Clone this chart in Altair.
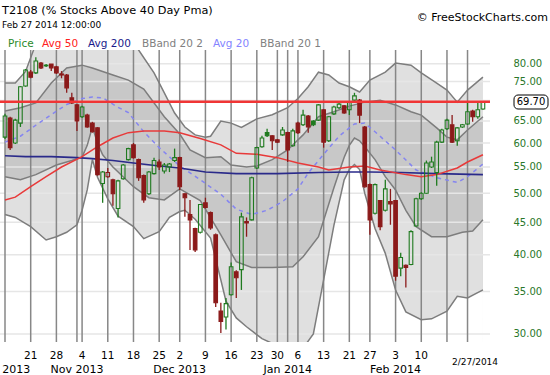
import altair as alt
import pandas as pd
import numpy as np

# ---------------- data ----------------
OPEN = [61.3,65.7,60.0,64.5,73.8,77.6,77.4,80.2,79.4,79.9,
        79.1,77.1,76.8,70.7,68.9,66.0,66.4,64.5,63.4,51.8,
        53.1,52.5,47.3,52.7,56.5,59.6,56.5,53.3,49.9,53.7,
        56.0,54.2,55.0,56.3,56.9,49.9,46.3,44.0,43.4,48.3,
        46.6,43.0,32.6,31.9,34.6,37.6,37.9,45.1,45.4,54.8,
        59.2,62.3,61.6,60.7,61.8,62.3,59.4,64.5,64.1,66.2,
        65.0,65.2,67.7,60.5,66.7,68.2,68.7,67.7,70.1,70.1,
        63.6,51.6,46.5,48.7,47.0,48.5,48.7,38.1,38.5,38.6,
        44.4,49.0,50.0,55.0,53.9,60.2,63.2,64.1,60.5,63.6,
        64.3,67.4,66.0,67.9]
HIGH = [66.7,66.0,65.5,73.8,78.5,78.2,81.9,80.5,79.9,79.9,
        79.4,77.9,77.1,72.0,69.1,68.7,66.7,64.8,63.6,54.2,
        54.8,52.7,52.5,55.6,59.0,60.0,56.7,53.5,54.2,56.9,
        56.5,55.8,55.8,58.8,57.1,50.0,48.8,44.1,48.1,49.2,
        46.8,43.2,33.6,34.2,38.9,37.8,46.6,45.8,53.1,59.2,
        61.6,63.2,61.8,60.9,63.6,62.5,63.2,64.8,67.7,66.4,
        65.2,69.1,67.9,66.2,68.7,69.4,68.9,69.9,72.0,70.4,
        63.8,51.8,51.8,48.8,52.5,50.8,48.8,40.3,38.6,43.7,
        49.2,50.2,56.3,57.1,60.5,63.2,65.5,66.4,63.6,64.3,
        69.4,67.7,69.6,69.9]
LOW = [60.9,58.5,59.8,63.6,73.6,75.9,77.1,78.5,79.1,77.9,
       77.1,75.9,72.0,69.1,62.7,65.7,63.4,62.3,53.3,48.3,
       52.9,47.8,45.8,52.5,56.3,56.7,52.3,48.3,49.7,53.5,
       54.4,53.7,54.0,56.0,50.6,45.9,40.7,40.4,43.2,47.3,
       43.8,33.1,30.1,30.5,34.5,34.2,35.2,42.7,45.3,54.6,
       59.0,61.3,58.5,60.0,61.6,56.0,59.2,62.0,63.8,62.3,
       63.8,65.0,59.0,60.2,66.4,67.9,66.7,66.4,69.9,64.5,
       51.0,43.0,46.3,43.7,46.8,44.6,36.4,37.0,35.5,38.5,
       44.3,48.8,49.9,54.8,51.4,60.0,62.9,60.0,59.4,63.4,
       64.1,64.8,65.5,67.7]
CLOSE = [66.2,59.0,65.2,73.6,78.2,76.2,80.8,78.8,79.6,78.8,
         77.4,76.8,73.3,69.4,65.0,68.4,63.6,62.5,53.5,54.0,
         53.9,49.9,52.3,55.4,58.8,56.9,52.9,48.8,54.0,56.3,
         55.0,55.4,55.6,56.9,51.2,49.2,45.4,40.7,48.0,47.5,
         44.1,33.6,31.4,33.5,38.3,36.8,45.9,44.9,52.9,59.0,
         61.1,61.6,60.5,60.2,62.9,58.5,62.7,62.3,66.4,63.6,
         64.1,68.9,60.2,66.0,68.4,69.1,66.9,69.6,71.2,66.4,
         51.2,45.4,51.6,44.3,50.8,48.1,37.0,39.6,38.2,43.5,
         49.0,50.0,55.8,56.0,60.2,62.9,65.2,60.2,63.4,64.1,
         67.2,66.0,67.7,69.7]

# Bollinger 20,2 (outer) upper / lower
OU_IDX = [0,2,4,6,9,14,20,24,26,29,31,33,35,37,39,40,42,44,46,49,52,55,57,59,61,63,65,67,69,71,74,76,79,81,84,86,88,90,93]
OU_VAL = [74.6,74.6,77.8,86.0,92.0,95.0,93.0,88.0,84.1,77.4,72.0,66.9,63.6,61.8,61.3,61.5,65.0,64.5,63.5,65.5,66.5,68.2,70.5,73.6,77.6,76.8,74.6,73.6,72.2,75.4,77.6,80.2,79.6,77.4,74.6,72.7,69.6,72.7,76.2]
OL_IDX = [0,2,5,8,10,12,14,15,16,17,18,20,22,25,27,30,32,34,35,37,40,42,43,45,47,50,54,58,60,62,64,66,67,68,69,70,72,74,76,78,81,83,86,88,90,93]
OL_VAL = [46.3,45.8,44.3,42.2,42.7,43.4,44.6,47.0,50.6,56.5,53.0,49.0,46.0,44.3,42.4,43.5,45.8,46.8,47.0,45.5,42.5,36.5,33.8,31.8,30.8,29.5,28.5,28.5,30.0,36.5,44.5,52.5,54.5,55.5,54.5,50.0,44.0,40.2,35.2,32.5,31.6,31.7,32.6,34.4,34.2,35.2]
# Bollinger 20,1 (inner) upper / lower
IU_IDX = [0,3,6,9,12,15,17,21,24,27,31,34,36,39,42,44,47,49,52,55,58,61,64,67,70,73,76,79,81,84,86,88,90,93]
IU_VAL = [67.4,68.2,69.4,74.6,78.8,79.6,78.8,76.8,75.4,73.0,66.0,62.0,58.5,56.9,57.1,55.4,55.0,55.2,56.5,58.5,61.8,66.0,67.2,68.6,69.6,70.1,68.9,67.2,66.4,63.4,61.3,60.7,62.9,66.0]
IL_IDX = [0,3,6,10,13,15,16,17,18,19,21,25,28,31,34,38,42,45,48,52,56,58,61,64,66,67,68,69,70,72,74,76,78,80,83,86,89,91,93]
IL_VAL = [53.1,52.5,53.5,55.4,56.3,57.0,59.5,63.6,60.0,57.5,55.0,51.2,49.2,48.8,50.8,48.7,43.0,39.0,38.2,38.2,38.3,39.7,42.7,51.0,57.0,59.5,61.1,60.5,59.2,56.5,53.1,50.6,47.0,44.3,42.7,42.7,43.4,43.6,45.4]
# moving averages
A20_IDX = [0,3,6,9,12,15,17,19,22,24,27,30,34,38,42,45,48,51,54,57,59,62,65,68,70,72,76,80,84,88,90,93]
A20_VAL = [60.2,61.5,64.0,66.5,69.0,70.5,70.9,70.7,68.3,67.0,62.5,59.0,55.2,52.5,49.8,47.2,46.3,47.0,48.5,50.8,53.8,57.6,61.5,64.3,64.5,62.5,58.5,54.4,52.9,52.0,53.1,55.6]
A50_IDX = [0,2,5,8,11,15,18,21,24,27,31,34,38,42,45,49,53,57,61,63,67,70,73,78,81,84,88,90,93]
A50_VAL = [48.8,49.3,51.2,53.1,55.0,57.1,59.2,61.1,62.3,62.7,62.7,62.3,61.0,59.6,57.8,57.6,56.9,55.8,55.0,54.4,55.0,55.2,54.4,53.5,53.1,53.5,54.8,56.0,57.5]
A200_IDX = [0,4,9,14,17,21,25,30,34,39,45,53,61,67,71,77,84,93]
A200_VAL = [57.3,57.1,57.1,56.9,56.7,56.3,55.8,55.2,54.8,54.0,53.7,53.7,53.9,54.0,54.0,53.9,53.7,53.5]

# axis / calendar (trading-day index 0 = Oct 14 2013)
GRID_IDX = [0,5,10,14,15,20,25,30,34,39,44,49,53,55,57,62,67,71,76,81,86,90]
DAY_IDX = [5,10,15,20,25,30,34,39,44,49,53,57,62,67,71,76,81]
DAY_LABELS = ["21","28","4","11","18","25","2","9","16","23","30","6","13","21","27","3","10"]
MONTH_IDX = [0,14,34,55,76]
MONTH_LABELS = ["Oct 2013","Nov 2013","Dec 2013","Jan 2014","Feb 2014"]
LAST_LABEL = "2/27/2014"
Y_TICKS = [30,35,40,45,50,55,60,65,70,75,80]

# ---------------- layout / style ----------------
W, H = 490, 292
Y_MIN, Y_MAX = 29.14, 84.1
FONT = "DejaVu Sans"
GREEN = "#1f7a1f"
RED = "#8b1a1a"
OUTER = "#e0e0e0"
INNER = "#c8c8c8"
BANDLINE = "#7d7d7d"

xs = alt.Scale(domain=[0, 93.4], nice=False, zero=False)
ys = alt.Scale(type="log", domain=[Y_MIN, Y_MAX], nice=False)
yaxis = alt.Axis(orient="right", values=[v for v in Y_TICKS if v != 70], format=".2f",
                 labelFont=FONT, labelFontSize=10, labelColor="#2a772a",
                 ticks=False, domain=False, grid=False, labelPadding=23,
                 labelOverlap=False, title=None)


def X(field="idx"):
    return alt.X(f"{field}:Q", scale=xs, axis=None)


def Y(field):
    return alt.Y(f"{field}:Q", scale=ys, axis=yaxis)


def series(idx, val):
    return pd.DataFrame({"idx": idx, "v": val})


def area(idx, val, color):
    d = series(idx, val)
    d["floor"] = Y_MIN * 0.9
    return alt.Chart(d).mark_area(fill=color, opacity=1, clip=True).encode(
        x=X(), y=Y("v"), y2="floor:Q")


def line(idx, val, color, width=1.5, dash=None):
    kw = dict(color=color, strokeWidth=width, clip=True)
    if dash:
        kw["strokeDash"] = dash
    return alt.Chart(series(idx, val)).mark_line(**kw).encode(x=X(), y=Y("v"))


layers = []
# band fills (painted from the top band down)
layers.append(area(OU_IDX, OU_VAL, OUTER))
layers.append(area(IU_IDX, IU_VAL, INNER))
layers.append(area(IL_IDX, IL_VAL, OUTER))
layers.append(area(OL_IDX, OL_VAL, "#ffffff"))

# grid
layers.append(alt.Chart(pd.DataFrame({"v": Y_TICKS})).mark_rule(color="#e6e6e6", strokeWidth=1.5).encode(
    y=Y("v"), x=alt.value(0), x2=alt.value(W)))
layers.append(alt.Chart(pd.DataFrame({"idx": GRID_IDX})).mark_rule(color="#878787", strokeWidth=1.5).encode(
    x=X(), y=alt.value(0), y2=alt.value(H)))

# band lines and averages
for idx, val in [(OU_IDX, OU_VAL), (IU_IDX, IU_VAL), (IL_IDX, IL_VAL), (OL_IDX, OL_VAL)]:
    layers.append(line(idx, val, BANDLINE))
layers.append(line(A20_IDX, A20_VAL, "#8585f0", 1.5, [4, 4]))
layers.append(line(A200_IDX, A200_VAL, "#2a2a8a", 1.6))
layers.append(line(A50_IDX, A50_VAL, "#e83a3a", 1.5))

# candles
n = len(CLOSE)
df = pd.DataFrame({"idx": range(n), "open": OPEN, "high": HIGH, "low": LOW, "close": CLOSE})
prev = df["close"].shift(1).fillna(df["close"])
df["col"] = np.where(df["close"] >= prev, GREEN, RED)
df["fillc"] = np.where(df["close"] > df["open"], "transparent", df["col"])
df["top"] = df[["open", "close"]].max(axis=1)
df["bot"] = df[["open", "close"]].min(axis=1)

base = alt.Chart(df)
layers.append(base.mark_rule(strokeWidth=1.3, clip=True).encode(
    x=X(), y=Y("high"), y2="top:Q", color=alt.Color("col:N", scale=None)))
layers.append(base.mark_rule(strokeWidth=1.3, clip=True).encode(
    x=X(), y=Y("bot"), y2="low:Q", color=alt.Color("col:N", scale=None)))
layers.append(base.mark_bar(size=3.6, strokeWidth=1.1, clip=True).encode(
    x=X(), y=Y("top"), y2="bot:Q",
    fill=alt.Fill("fillc:N", scale=None), stroke=alt.Stroke("col:N", scale=None)))

# last price line
last = pd.DataFrame({"v": [CLOSE[-1]]})
layers.append(alt.Chart(last).mark_rule(color="#f03535", strokeWidth=2.5).encode(
    y=Y("v"), x=alt.value(0), x2=alt.value(W)))

# last price box on the axis
layers.append(alt.Chart(last).mark_rect(fill="white", stroke="black", strokeWidth=1, cornerRadius=4).encode(
    x=alt.value(514), x2=alt.value(548), y=alt.value(45), y2=alt.value(59)))
layers.append(alt.Chart(last).mark_text(font=FONT, fontSize=10, color="black", align="center",
                                        baseline="middle").encode(
    x=alt.value(531), y=Y("v"), text=alt.Text("v:Q", format=".2f")))

# x axis labels
layers.append(alt.Chart(pd.DataFrame({"idx": DAY_IDX, "t": DAY_LABELS})).mark_text(
    font=FONT, fontSize=10.5, color="black", align="center", baseline="alphabetic").encode(
    x=X(), y=alt.value(309), text="t:N"))
layers.append(alt.Chart(pd.DataFrame({"idx": MONTH_IDX, "t": MONTH_LABELS})).mark_text(
    font=FONT, fontSize=11, color="black", align="center", baseline="alphabetic").encode(
    x=X(), y=alt.value(323), text="t:N"))
one = pd.DataFrame({"a": [0]})
layers.append(alt.Chart(one).mark_text(text=LAST_LABEL, font=FONT, fontSize=9, color="black",
                                       align="center", baseline="alphabetic").encode(
    x=alt.value(475), y=alt.value(315)))


# header texts
def label(txt, x, y, size, color="black", align="left"):
    return alt.Chart(one).mark_text(text=txt, font=FONT, fontSize=size, color=color, align=align,
                                    baseline="alphabetic").encode(
        x=alt.value(x), y=alt.value(y))


layers.append(label("T2108 (% Stocks Above 40 Day Pma)", 2, -36.5, 11.3))
layers.append(label("Feb 27 2014 12:00:00", 2, -22.5, 9))
layers.append(label("\u00a9 FreeStockCharts.com", 548, -29, 11, align="right"))
layers.append(label("Price", 8, -3, 10.5, "#2a8a2a"))
layers.append(label("Avg 50", 42, -3, 10.5, "#ff2020"))
layers.append(label("Avg 200", 88, -3, 10.5, "#1a1a8c"))
layers.append(label("BBand 20 2", 142, -3, 10.5, "#808080"))
layers.append(label("Avg 20", 213, -3, 10.5, "#8484ff"))
layers.append(label("BBand 20 1", 260, -3, 10.5, "#808080"))

chart = alt.layer(*layers).properties(
    width=W, height=H, autosize="none",
    padding={"left": 0, "top": 50, "right": 60, "bottom": 33},
    background="white",
).configure_view(stroke=None)

chart.save("out.html", embed_options={"renderer": "svg", "actions": False})
